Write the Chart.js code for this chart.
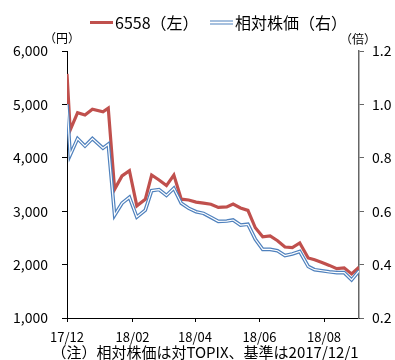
<!DOCTYPE html>
<html>
<head>
<meta charset="utf-8">
<script src="https://cdn.jsdelivr.net/npm/chart.js@4"></script>
<style>
  html, body { margin: 0; padding: 0; background: #fff; }
  #wrap { width: 395px; height: 360px; position: relative; }
</style>
</head>
<body>
<div id="wrap"><canvas id="chart"></canvas></div>
<script>
// ====================== DATA ======================
const dates = [
  "2017-12-01", "2017-12-04", "2017-12-11", "2017-12-18", "2017-12-25",
  "2018-01-04", "2018-01-09", "2018-01-15", "2018-01-22", "2018-01-29",
  "2018-02-05", "2018-02-13", "2018-02-19", "2018-02-26", "2018-03-05",
  "2018-03-12", "2018-03-19", "2018-03-26", "2018-04-02", "2018-04-09",
  "2018-04-16", "2018-04-23", "2018-05-01", "2018-05-07", "2018-05-14",
  "2018-05-21", "2018-05-28", "2018-06-04", "2018-06-11", "2018-06-18",
  "2018-06-25", "2018-07-02", "2018-07-09", "2018-07-17", "2018-07-23",
  "2018-07-30", "2018-08-06", "2018-08-13", "2018-08-20", "2018-08-27",
  "2018-09-03"
];
// 6558 share price (yen, left axis)
const priceValues = [
  5570, 4520, 4845, 4800, 4910, 4860, 4930, 3410, 3660, 3760,
  3100, 3223, 3678, 3584, 3480, 3678, 3225, 3210, 3170, 3150,
  3130, 3070, 3080, 3135, 3060, 3015, 2690, 2520, 2536, 2448,
  2330, 2320, 2405, 2125, 2090, 2040, 1985, 1925, 1940, 1824,
  1950
];
// relative to TOPIX (x, right axis)
const relativeValues = [
  1.00, 0.81, 0.872, 0.844, 0.872, 0.836, 0.851, 0.585, 0.630, 0.652,
  0.578, 0.604, 0.677, 0.681, 0.659, 0.686, 0.630, 0.611, 0.598, 0.592,
  0.577, 0.562, 0.563, 0.567, 0.548, 0.551, 0.495, 0.457, 0.457, 0.452,
  0.434, 0.440, 0.449, 0.393, 0.381, 0.377, 0.373, 0.370, 0.370, 0.343,
  0.376
];
const xTickDates = ["2017-12-01", "2018-02-01", "2018-04-01", "2018-06-01", "2018-08-01"];
const xTickLabels = ["17/12", "18/02", "18/04", "18/06", "18/08"];

const seriesNames = ["6558（左）", "相対株価（右）"];
const leftUnit = "（円）";
const rightUnit = "（倍）";
const footnote = "（注）相対株価は対TOPIX、基準は2017/12/1";

// ====================== HELPERS ======================
const FONT = "'Noto Sans CJK JP', 'Noto Sans', sans-serif";
const RED = "#C0504D";
const BLUE = "#4F81BD";

function dayOf(s) {
  return Math.round((Date.parse(s + "T00:00:00Z") - Date.parse(dates[0] + "T00:00:00Z")) / 86400000);
}
const xTickDays = xTickDates.map(dayOf);
const pricePoints = dates.map((d, i) => ({ x: dayOf(d), y: priceValues[i] }));
const relPoints = dates.map((d, i) => ({ x: dayOf(d), y: relativeValues[i] }));

// legend, units and footnote drawn by hand
const extras = {
  id: "extras",
  afterDraw(chart) {
    const ctx = chart.ctx;
    const area = chart.chartArea;
    ctx.save();
    ctx.textBaseline = "middle";

    // legend
    ctx.font = "16px " + FONT;
    ctx.fillStyle = RED;
    ctx.fillRect(90, 21, 23, 3);
    ctx.fillStyle = "#000";
    ctx.textAlign = "left";
    ctx.fillText(seriesNames[0], 115, 23);

    ctx.strokeStyle = BLUE;
    ctx.lineWidth = 1.2;
    ctx.beginPath();
    ctx.moveTo(210, 21); ctx.lineTo(233, 21);
    ctx.moveTo(210, 24); ctx.lineTo(233, 24);
    ctx.stroke();
    ctx.fillText(seriesNames[1], 235, 23);

    // units
    ctx.font = "12px " + FONT;
    ctx.textAlign = "center";
    ctx.fillText(leftUnit, area.left - 5, 38);
    ctx.fillText(rightUnit, area.right - 1, 39);

    // footnote
    ctx.font = "15px " + FONT;
    ctx.fillText(footnote, 205, 352);
    ctx.restore();
  }
};

// ====================== CHART ======================
new Chart(document.getElementById("chart"), {
  type: "line",
  data: {
    datasets: [
      {
        label: seriesNames[0],
        data: pricePoints,
        yAxisID: "y",
        borderColor: RED,
        borderWidth: 3.2,
        pointRadius: 0,
        tension: 0,
        order: 2
      },
      {
        label: seriesNames[1],
        data: relPoints,
        yAxisID: "y1",
        borderColor: BLUE,
        borderWidth: 3.6,
        pointRadius: 0,
        tension: 0,
        order: 1
      },
      {
        label: "inner",
        data: relPoints,
        yAxisID: "y1",
        borderColor: "#ffffff",
        borderWidth: 1.2,
        pointRadius: 0,
        tension: 0,
        order: 0
      }
    ]
  },
  options: {
    responsive: true,
    maintainAspectRatio: false,
    animation: false,
    layout: { padding: { top: 51, left: 0, right: 0, bottom: 0 } },
    plugins: {
      legend: { display: false },
      tooltip: { enabled: false }
    },
    scales: {
      x: {
        type: "linear",
        min: 0,
        max: dayOf(dates[dates.length - 1]),
        afterBuildTicks: (s) => { s.ticks = xTickDays.map(v => ({ value: v })); },
        afterFit: (s) => { s.height = 42; },
        grid: { drawOnChartArea: false, tickLength: 4, color: "#000" },
        border: { color: "#000", width: 1 },
        ticks: {
          autoSkip: false,
          maxRotation: 0,
          padding: 7,
          color: "#000",
          font: { family: FONT, size: 13 },
          callback: (v) => xTickLabels[xTickDays.indexOf(v)]
        }
      },
      y: {
        position: "left",
        min: 1000,
        max: 6000,
        afterFit: (s) => { s.width = 67; },
        grid: { drawOnChartArea: false, tickLength: 5, color: "#000" },
        border: { color: "#000", width: 1 },
        ticks: {
          stepSize: 1000,
          padding: 14,
          color: "#000",
          font: { family: FONT, size: 14 },
          callback: (v) => v.toLocaleString("en-US")
        }
      },
      y1: {
        position: "right",
        min: 0.2,
        max: 1.2,
        afterFit: (s) => { s.width = 36; },
        grid: { drawOnChartArea: false, tickLength: 5, color: "#666" },
        border: { color: "#666", width: 1.5 },
        ticks: {
          stepSize: 0.2,
          padding: 8,
          color: "#000",
          font: { family: FONT, size: 14 },
          callback: (v) => v.toFixed(1)
        }
      }
    }
  },
  plugins: [extras]
});
</script>
</body>
</html>
